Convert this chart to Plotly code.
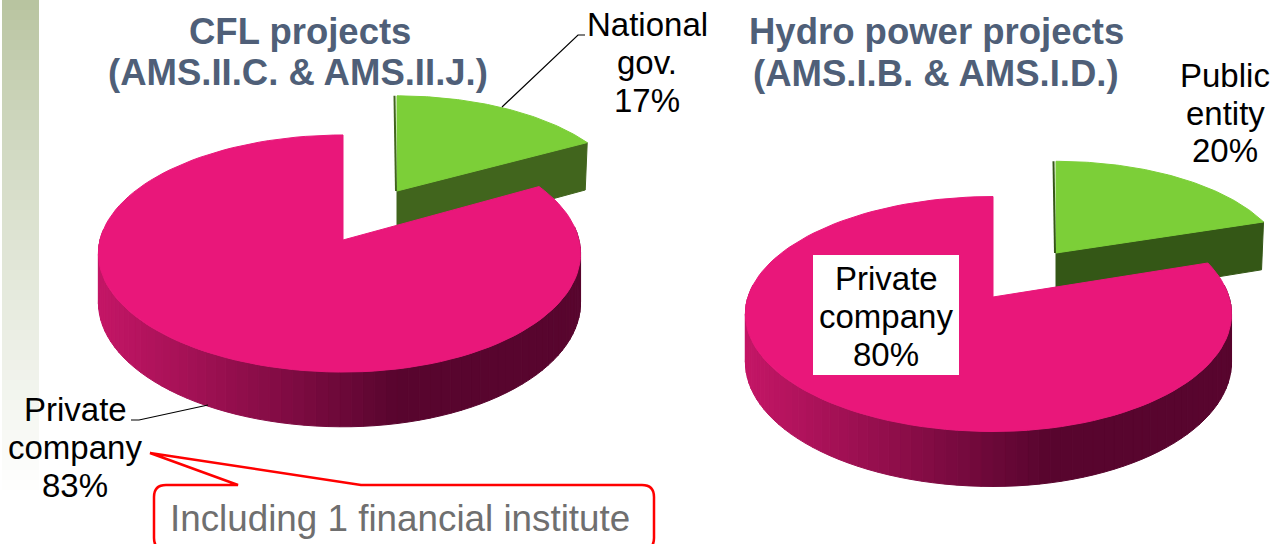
import math
import plotly.graph_objects as go

# ---- data ----
CFL_LABELS = ["National gov.", "Private company"]
CFL_SHARES = [17, 83]
HYDRO_LABELS = ["Public entity", "Private company"]
HYDRO_SHARES = [20, 80]

TITLE_COLOR = "#4F5F78"
GREEN = "#7CCF38"
PINK = "#E9177A"
SIDE_LIGHT = (196, 22, 102)
SIDE_DARK = (88, 5, 46)


def project(view, theta):
    """Oblique, perspective view of a point on the pie's rim (theta clockwise from 12 o'clock)."""
    u, v = math.sin(theta), -math.cos(theta)
    s = 1 / (1 - view["k"] * v)
    a = view["a"] if u >= 0 else view.get("a_left", view["a"])
    return view["cx"] + a * u * s, view["cy"] + view["b"] * v * s, s


def arc(view, t0, t1, n=90):
    return [project(view, t0 + (t1 - t0) * i / n) for i in range(n + 1)]


def poly(fig, pts, color, line=None, name=None):
    xs = [p[0] for p in pts] + [pts[0][0]]
    ys = [p[1] for p in pts] + [pts[0][1]]
    fig.add_trace(go.Scatter(x=xs, y=ys, mode="lines", fill="toself", fillcolor=color,
                             line=dict(color=line or color, width=1), hoverinfo="skip",
                             name=name, showlegend=False))


def side_color(x, left, width):
    t = min(1.0, max(0.0, (x - left) / (0.62 * width)))
    c = [round(SIDE_LIGHT[i] + (SIDE_DARK[i] - SIDE_LIGHT[i]) * t) for i in range(3)]
    return f"rgb({c[0]},{c[1]},{c[2]})"


def draw_pie(fig, shares, labels, gview, pview, gdepth, pdepth, gside):
    split = 2 * math.pi * shares[0] / sum(shares)
    # small (exploded) wedge: cut faces first, then its top
    rim = arc(gview, 0, split)
    ex, ey, es = rim[-1]
    ax, ay = gview["cx"], gview["cy"]
    poly(fig, [(ax, ay), (ex, ey), (ex - 2, ey + gdepth * es), (ax, ay + gdepth)], gside)
    tx, ty, _ = rim[0]
    poly(fig, [(ax, ay)] + [(p[0], p[1]) for p in rim], GREEN, name=labels[0])
    fig.add_trace(go.Scatter(x=[tx - 2.5, ax - 1], y=[ty, ay], mode="lines",
                             line=dict(color=gside, width=2), hoverinfo="skip", showlegend=False))
    # large wedge: shaded outer wall in strips, then its top
    wall = arc(pview, split, 2 * math.pi, 120)
    left = min(p[0] for p in wall)
    width = max(p[0] for p in wall) - left
    for p0, p1 in zip(wall[:-1], wall[1:]):
        if p0[1] < pview["cy"] - 10 and p1[1] < pview["cy"] - 10:
            continue
        col = side_color((p0[0] + p1[0]) / 2, left, width)
        poly(fig, [(p0[0], p0[1]), (p1[0], p1[1]),
                   (p1[0], p1[1] + pdepth * p1[2]), (p0[0], p0[1] + pdepth * p0[2])], col)
    poly(fig, [(pview["cx"], pview["cy"])] + [(p[0], p[1]) for p in wall], PINK, name=labels[1])


fig = go.Figure()

# CFL pie
draw_pie(fig, CFL_SHARES, CFL_LABELS,
         dict(cx=397, cy=191, a=229, b=106, k=0.114),
         dict(cx=343, cy=240, a=236, a_left=243, b=117, k=0.114),
         50, 48.5, "#41651D")
# Hydro pie
draw_pie(fig, HYDRO_SHARES, HYDRO_LABELS,
         dict(cx=1056, cy=253, a=228, b=105, k=0.145),
         dict(cx=993, cy=297, a=236, a_left=245, b=115, k=0.145),
         50, 47, "#345716")

# leader lines
for xs, ys in [([502, 578, 585], [107, 35, 35]), ([208, 139, 131], [405, 420, 420])]:
    fig.add_trace(go.Scatter(x=xs, y=ys, mode="lines", line=dict(color="#000000", width=1.2),
                             hoverinfo="skip", showlegend=False))

shapes = []
# left gradient band
N = 50
top = (184, 196, 160)
for i in range(N):
    t = (i / (N - 1)) ** 0.85
    c = [round(top[j] + (255 - top[j]) * t) for j in range(3)]
    shapes.append(dict(type="rect", layer="below", xref="x", yref="y", x0=2, x1=39,
                       y0=i * 10, y1=(i + 1) * 10, line=dict(width=0),
                       fillcolor=f"rgb({c[0]},{c[1]},{c[2]})"))
# white box behind the Hydro label
shapes.append(dict(type="rect", layer="above", xref="x", yref="y", x0=813, x1=959, y0=255, y1=375,
                   line=dict(width=0), fillcolor="#FFFFFF"))
# callout
shapes.append(dict(type="path", layer="above", xref="x", yref="y",
                   path="M 238 485 L 150 453 L 361 485 L 642 485 Q 654 485 654 497 L 654 538 "
                        "Q 654 550 642 550 L 166 550 Q 154 550 154 538 L 154 497 Q 154 485 166 485 Z",
                   line=dict(color="#FF0000", width=2.5), fillcolor="rgba(255,255,255,0)"))


def text(x, y, s, size, color="#000000", bold=False):
    fig.add_annotation(x=x, y=y, xref="x", yref="y", text=f"<b>{s}</b>" if bold else s, showarrow=False,
                       xanchor="center", yanchor="middle",
                       font=dict(family="Liberation Sans", size=size, color=color))


text(300, 31, "CFL projects", 36.5, TITLE_COLOR, True)
text(298, 72, "(AMS.II.C. &amp; AMS.II.J.)", 36.5, TITLE_COLOR, True)
text(936, 31, "Hydro power projects", 36.5, TITLE_COLOR, True)
text(936, 73, "(AMS.I.B. &amp; AMS.I.D.)", 36.5, TITLE_COLOR, True)
for x, y, s in [(647, 24, "National"), (647, 62, "gov."), (647, 100, "17%"),
                (1225, 75, "Public"), (1225, 113, "entity"), (1225, 150, "20%"),
                (886, 278, "Private"), (886, 316, "company"), (886, 354, "80%"),
                (75, 409, "Private"), (75, 447, "company"), (75, 485, "83%")]:
    text(x, y, s, 33)
text(400, 518, "Including 1 financial institute", 36.8, "#6F6F6F")

fig.update_layout(width=1279, height=544, margin=dict(l=0, r=0, t=0, b=0),
                  paper_bgcolor="#FFFFFF", plot_bgcolor="#FFFFFF", showlegend=False,
                  shapes=shapes,
                  xaxis=dict(range=[0, 1279], visible=False, fixedrange=True),
                  yaxis=dict(range=[544, 0], visible=False, fixedrange=True))
fig.write_html("out.html", config=dict(displayModeBar=False),
               post_script="document.body.style.margin='0';document.body.style.overflow='hidden';")
